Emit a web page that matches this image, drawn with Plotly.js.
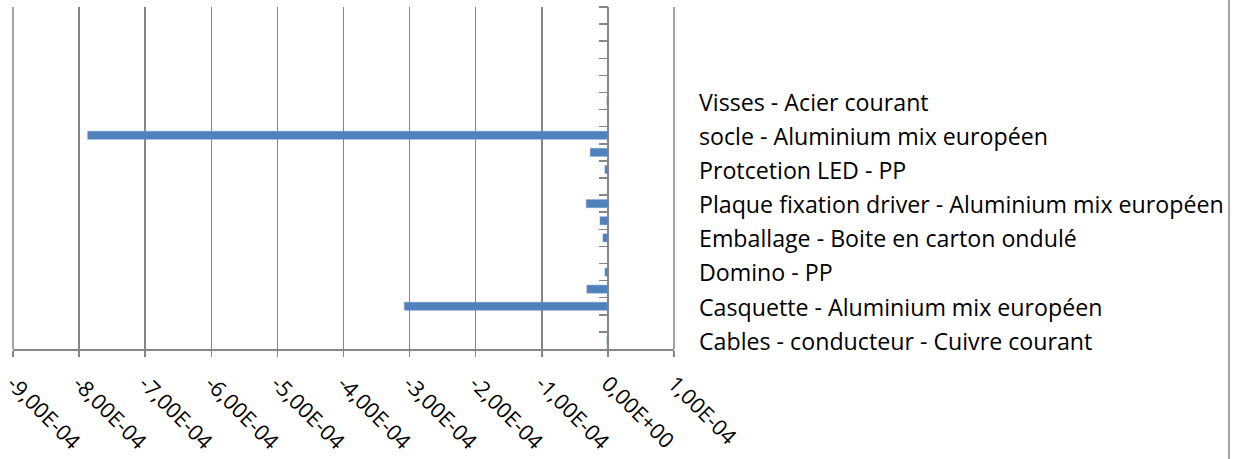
<!DOCTYPE html>
<html>
<head>
<meta charset="utf-8">
<script src="https://cdn.plot.ly/plotly-3.0.1.min.js"></script>
<style>html,body{margin:0;padding:0;background:#fff;}#chart{width:1238px;height:459px;}</style>
</head>
<body>
<div id="chart"></div>
<script>
// 20 unlabeled category rows, listed top to bottom
const rows = ["r1","r2","r3","r4","r5","r6","r7","r8","r9","r10","r11","r12","r13","r14","r15","r16","r17","r18","r19","r20"];
// bar values, top to bottom (null = no bar)
const values = [null, null, null, null, null, -1.5e-6, null, -7.87e-4, -2.67e-5, -4.5e-6,
                null, -3.28e-5, -1.2e-5, -7.5e-6, null, -4.5e-6, -3.18e-5, -3.08e-4, null, -1.5e-6];
// legend entries, top to bottom
const legendNames = [
  "Visses - Acier courant",
  "socle - Aluminium mix européen",
  "Protcetion LED - PP",
  "Plaque fixation driver - Aluminium mix européen",
  "Emballage - Boite en carton ondulé",
  "Domino - PP",
  "Casquette - Aluminium mix européen",
  "Cables - conducteur - Cuivre courant"
];
// x-axis ticks
const tickVals = [-9e-4, -8e-4, -7e-4, -6e-4, -5e-4, -4e-4, -3e-4, -2e-4, -1e-4, 0, 1e-4];
const tickText = ["-9,00E-04","-8,00E-04","-7,00E-04","-6,00E-04","-5,00E-04","-4,00E-04","-3,00E-04","-2,00E-04","-1,00E-04","0,00E+00","1,00E-04"];

const gray = "#868686";
const FONT = "'Open Sans', Lato, sans-serif";
const FS = 23.2;
const traces = [{
  type: "bar", orientation: "h", x: values, y: rows,
  marker: {color: "#4F81BD", line: {color: "#6C95C8", width: 0.5}},
  showlegend: false, hoverinfo: "x"
}];
legendNames.forEach((n, i) => {
  traces.push({
    type: "bar", orientation: "h", x: [null], y: [rows[0]], name: n,
    legendgroup: "g" + i, marker: {color: "rgba(0,0,0,0)"}, showlegend: true, hoverinfo: "skip"
  });
});

const L = 13, R = 674, T = 7, B = 349;
const W = 1238, H = 459;
const xRange = [tickVals[0], tickVals[tickVals.length - 1]];
const toPaper = v => (v - xRange[0]) / (xRange[1] - xRange[0]);
const edgeGrid = xRange.map(v => ({
  type: "line", xref: "paper", yref: "paper", x0: toPaper(v), x1: toPaper(v), y0: 0, y1: 1,
  line: {color: gray, width: 1.5}, layer: "above"
}));
const layout = {
  width: W, height: H,
  margin: {l: L, r: W - R, t: T, b: H - B, pad: 0},
  paper_bgcolor: "#fff", plot_bgcolor: "#fff",
  font: {family: FONT, size: FS, color: "#000"},
  barmode: "overlay",
  bargap: 0.53,
  showlegend: true,
  legend: {
    x: (659 - L) / (R - L), xanchor: "left", y: (B - 80) / (B - T), yanchor: "top",
    traceorder: "grouped", tracegroupgap: 1, bgcolor: "rgba(0,0,0,0)",
    font: {family: FONT, size: FS, color: "#000"}
  },
  xaxis: {
    range: xRange, tickmode: "array", tickvals: tickVals, ticktext: tickText,
    tickangle: 45, showgrid: true, gridcolor: gray, gridwidth: 1.5,
    showline: true, linecolor: gray, linewidth: 1.5, zeroline: false,
    ticks: "outside", ticklen: 6, tickcolor: gray, tickwidth: 1.5,
    ticklabelstandoff: 6, ticklabeloverflow: "allow",
    tickfont: {family: FONT, size: 21.5, color: "#000"},
    fixedrange: true
  },
  yaxis: {
    type: "category", categoryorder: "array", categoryarray: rows, autorange: "reversed",
    anchor: "free", position: 0.9, showticklabels: false, showgrid: false, zeroline: false,
    showline: true, linecolor: gray, linewidth: 1.5,
    ticks: "outside", tickson: "boundaries", ticklen: 9, tickcolor: gray, tickwidth: 1.5,
    fixedrange: true
  },
  shapes: edgeGrid.concat([{
    type: "line", xref: "paper", yref: "paper",
    x0: (1229 - L) / (R - L), x1: (1229 - L) / (R - L), y0: -2, y1: 2,
    line: {color: gray, width: 1.5}
  }])
};
Plotly.newPlot("chart", traces, layout, {displayModeBar: false, staticPlot: true});
</script>
</body>
</html>
